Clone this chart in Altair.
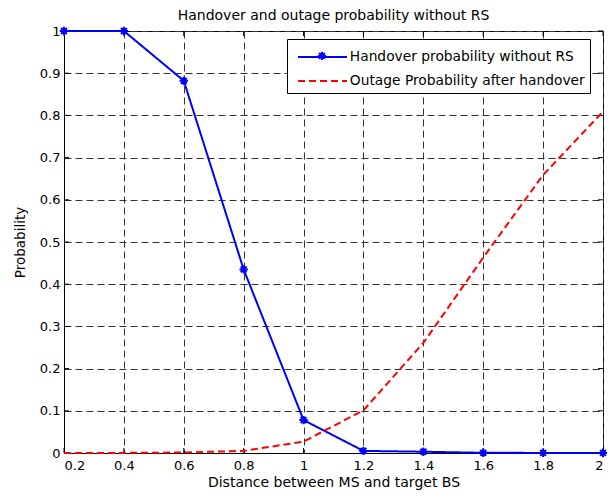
import altair as alt
import pandas as pd

# ---- data ----
distance = [0.2, 0.4, 0.6, 0.8, 1.0, 1.2, 1.4, 1.6, 1.8, 2.0]
handover = [1.0, 1.0, 0.882, 0.435, 0.078, 0.005, 0.003, 0.0005, 0.0002, 0.0001]
outage = [0.0, 0.0002, 0.0012, 0.005, 0.027, 0.101, 0.261, 0.463, 0.659, 0.809]

series_names = ["Handover probability without RS", "Outage Probability after handover"]
series_colors = ["#0000ff", "#ff0000"]
series_dash = [[1, 0], [7, 4]]

x_ticks = [0.2, 0.4, 0.6, 0.8, 1.0, 1.2, 1.4, 1.6, 1.8, 2.0]
y_ticks = [0, 0.1, 0.2, 0.3, 0.4, 0.5, 0.6, 0.7, 0.8, 0.9, 1.0]

title_text = "Handover and outage probability without RS"
x_title = "Distance between MS and target BS"
y_title = "Probability"

FONT = "DejaVu Sans"
W, H = 539, 422
TICK = 5

df = pd.DataFrame({
    "distance": distance + distance,
    "prob": handover + outage,
    "series": [series_names[0]] * len(distance) + [series_names[1]] * len(distance),
})
xt = pd.DataFrame({"distance": x_ticks})
yt = pd.DataFrame({"prob": y_ticks})
tt = pd.DataFrame({"title": [title_text]})

xs = alt.Scale(domain=[0.2, 2.0], nice=False, zero=False)
ys = alt.Scale(domain=[0, 1], nice=False, zero=False)

# legend symbol: a horizontal stroke of ~49 px
line_path = "M-0.18,0L9.82,0"
asterisk = "M-1,0L1,0M0,-1L0,1M-0.7,-0.7L0.7,0.7M-0.7,0.7L0.7,-0.7"

leg = alt.Legend(title=" ", titleFontSize=1, titlePadding=5,
                 orient="none", legendX=223, legendY=8)

lines = alt.Chart(df).mark_line(strokeWidth=2).encode(
    x=alt.X("distance:Q", scale=xs,
            axis=alt.Axis(values=x_ticks, format="~g", title=x_title)),
    y=alt.Y("prob:Q", scale=ys,
            axis=alt.Axis(values=y_ticks, format="~g", title=y_title)),
    color=alt.Color("series:N", scale=alt.Scale(domain=series_names, range=series_colors), legend=leg),
    strokeDash=alt.StrokeDash("series:N", scale=alt.Scale(domain=series_names, range=series_dash), legend=leg),
)

# markers of the handover series, with a second (label-less) legend that puts
# the marker on top of the first legend line
marker_leg = alt.Legend(
    title=None, orient="none", legendX=251, legendY=18, zindex=1,
    padding=0, fillColor="transparent", strokeColor="transparent",
    labelExpr="''", labelOffset=0, symbolType=asterisk, symbolSize=70,
    symbolStrokeColor="#0000ff", symbolStrokeWidth=2, symbolFillColor="transparent",
)
points = alt.Chart(df).transform_filter(
    alt.datum.series == series_names[0]
).transform_calculate(
    marker="'m'"
).mark_point(filled=False, size=70, color="#0000ff", opacity=1, strokeWidth=2).encode(
    x=alt.X("distance:Q", scale=xs),
    y=alt.Y("prob:Q", scale=ys),
    shape=alt.Shape("marker:N", scale=alt.Scale(domain=["m"], range=[asterisk]), legend=marker_leg),
)

tick_top = alt.Chart(xt).mark_rule(color="black", strokeWidth=1).encode(
    x=alt.X("distance:Q", scale=xs), y=alt.value(0), y2=alt.value(TICK))
tick_bottom = alt.Chart(xt).mark_rule(color="black", strokeWidth=1).encode(
    x=alt.X("distance:Q", scale=xs), y=alt.value(H - TICK), y2=alt.value(H))
tick_left = alt.Chart(yt).mark_rule(color="black", strokeWidth=1).encode(
    y=alt.Y("prob:Q", scale=ys), x=alt.value(0), x2=alt.value(TICK))
tick_right = alt.Chart(yt).mark_rule(color="black", strokeWidth=1).encode(
    y=alt.Y("prob:Q", scale=ys), x=alt.value(W - TICK), x2=alt.value(W))

title = alt.Chart(tt).mark_text(
    font=FONT, fontSize=14, color="black", align="center", baseline="alphabetic"
).encode(x=alt.value(W / 2), y=alt.value(-11), text="title:N")

chart = alt.layer(
    tick_top, tick_bottom, tick_left, tick_right, lines, points, title
).properties(
    width=W, height=H,
    autosize=alt.AutoSizeParams(type="none"),
    padding={"left": 56, "top": 23, "right": 4, "bottom": 40},
).configure_view(
    stroke="black", strokeWidth=1
).configure_axis(
    domainColor="black", domainWidth=1, ticks=False,
    labelFont=FONT, labelFontSize=13, labelColor="black",
    titleFont=FONT, titleFontSize=14, titleFontWeight="normal", titleColor="black",
    grid=True, gridColor="#333333", gridDash=[7, 4], gridWidth=1, gridOpacity=1,
).configure_axisX(
    labelPadding=6, titlePadding=3
).configure_axisY(
    labelPadding=4, titlePadding=12, titleFontSize=13.5
).configure_legend(
    strokeColor="black", fillColor="white", padding=5, cornerRadius=0,
    labelFont=FONT, labelFontSize=13.8, labelColor="black", labelLimit=400,
    symbolType=line_path, symbolStrokeWidth=2, symbolSize=96, labelOffset=44,
    rowPadding=9,
)

chart.save("out.html", embed_options={"renderer": "svg", "actions": False})
